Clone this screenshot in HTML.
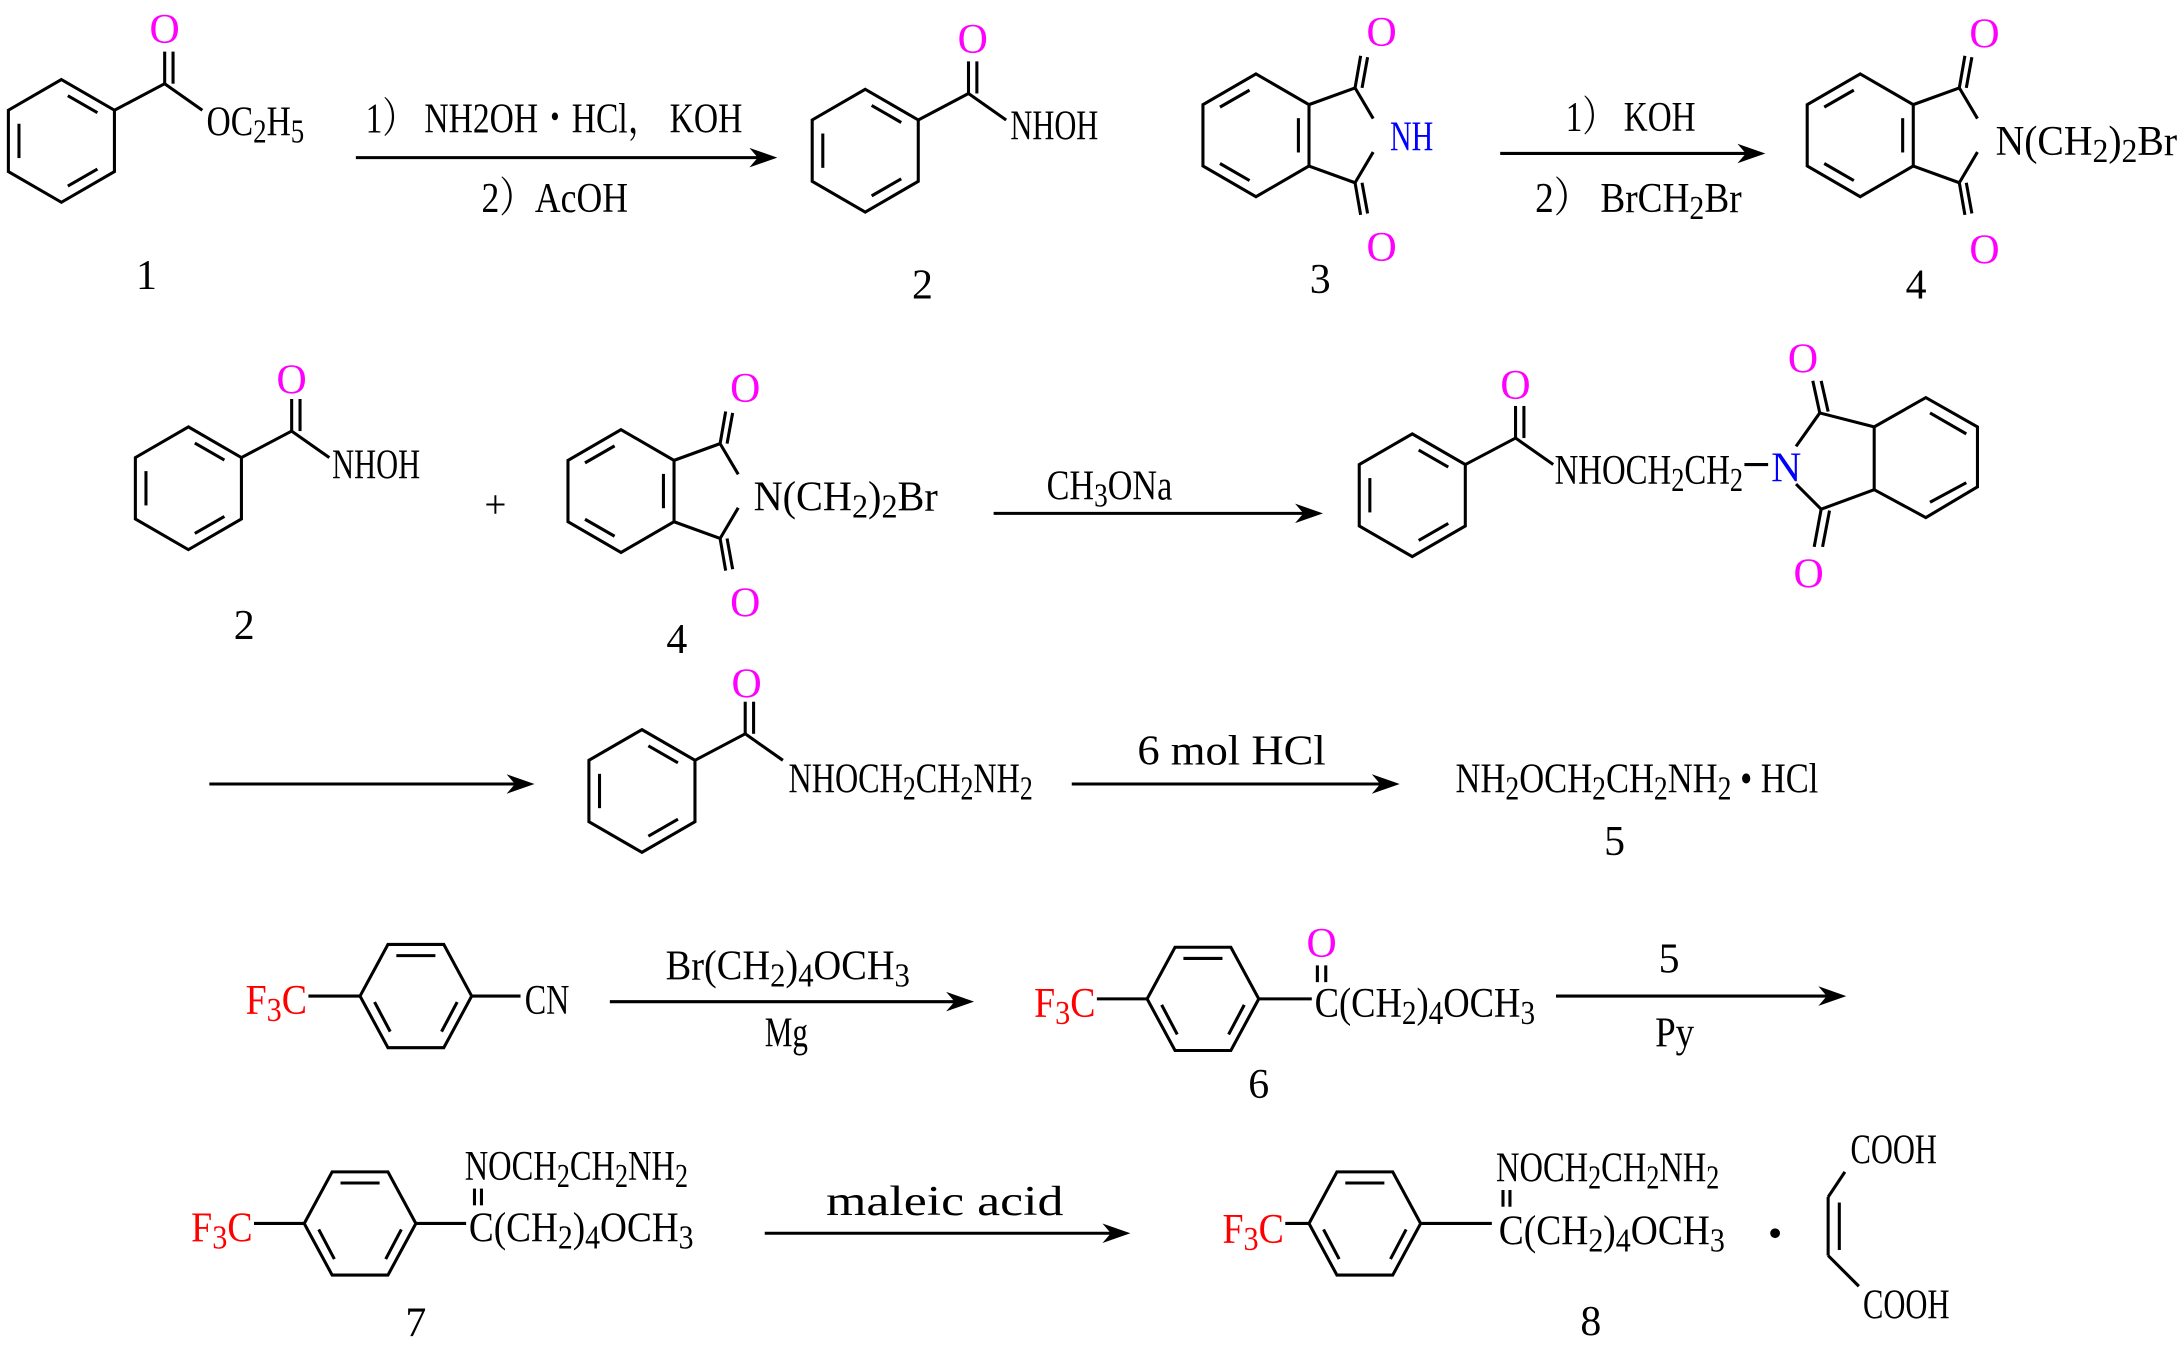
<!DOCTYPE html>
<html><head><meta charset="utf-8"><style>
html,body{margin:0;padding:0;background:#fff;}
svg{display:block;}
text{font-family:"Liberation Serif","Noto Serif CJK SC",serif;font-size:30px;fill:#000;}
.s{font-size:24px;}
.m{fill:#ff00ff;}
.b{fill:#0000ff;}
.r{fill:#ff0000;}
line,polyline,polygon.k{stroke:#000;stroke-width:2.2;fill:none;}
.ah{fill:#000;stroke:none;}
</style></head><body>
<svg width="2184" height="1356" viewBox="0 0 1565 972" preserveAspectRatio="none" xmlns="http://www.w3.org/2000/svg">
<defs>
<g id="ringA">
<polygon class="k" points="0,-44 38,-22 38,22 0,44 -38,22 -38,-22"/>
<line x1="4.6" y1="-32.4" x2="25.8" y2="-20.2"/>
<line x1="-30.4" y1="-12.3" x2="-30.4" y2="12.3"/>
<line x1="4.6" y1="32.4" x2="25.8" y2="20.2"/>
</g>
<g id="ringB">
<polygon class="k" points="0,-44 38,-22 38,22 0,44 -38,22 -38,-22"/>
<line x1="-4.6" y1="-32.4" x2="-25.8" y2="-20.2"/>
<line x1="30.4" y1="-12.3" x2="30.4" y2="12.3"/>
<line x1="-4.6" y1="32.4" x2="-25.8" y2="20.2"/>
</g>
<g id="ringF">
<polygon class="k" points="40,0 20,37 -20,37 -40,0 -20,-37 20,-37"/>
<line x1="-14" y1="-29" x2="14" y2="-29"/>
<line x1="-29.6" y1="4.3" x2="-18.4" y2="25.5"/>
<line x1="29.6" y1="4.3" x2="18.4" y2="25.5"/>
</g>
<g id="benzoyl">
<use href="#ringA"/>
<line x1="38" y1="-22" x2="74" y2="-41"/>
<line x1="74" y1="-41" x2="74" y2="-64"/>
<line x1="80" y1="-41" x2="80" y2="-64"/>
<line x1="74" y1="-41" x2="101" y2="-22"/>
</g>
<g id="phth">
<use href="#ringB"/>
<line x1="38" y1="-22" x2="71" y2="-34"/>
<line x1="38" y1="22" x2="71" y2="34"/>
<line x1="71" y1="-34" x2="84" y2="-12"/>
<line x1="71" y1="34" x2="84" y2="12"/>
<line x1="71" y1="-34" x2="75" y2="-57"/>
<line x1="76" y1="-34" x2="80" y2="-56"/>
<line x1="71" y1="34" x2="75" y2="57"/>
<line x1="76" y1="34" x2="80" y2="56"/>
</g>
<polygon id="head" class="ah" points="0,0 -20,-7 -14,0 -20,7"/>
</defs>

<!-- Row 1 -->
<use href="#benzoyl" x="44" y="101"/>
<text class="m" x="118" y="31" text-anchor="middle">O</text>
<text x="148" y="97" textLength="70" lengthAdjust="spacingAndGlyphs">OC<tspan class="s" dy="5">2</tspan><tspan dy="-5">H</tspan><tspan class="s" dy="5">5</tspan></text>
<text x="105" y="207" text-anchor="middle">1</text>

<line x1="255" y1="113" x2="545" y2="113"/><use href="#head" x="557" y="113"/>
<text x="262" y="95" textLength="270" lengthAdjust="spacingAndGlyphs">1） NH2OH・HCl， KOH</text>
<text x="345" y="152" textLength="105" lengthAdjust="spacingAndGlyphs">2）AcOH</text>

<use href="#benzoyl" x="620" y="108"/>
<text class="m" x="697" y="38" text-anchor="middle">O</text>
<text x="724" y="100" textLength="63" lengthAdjust="spacingAndGlyphs">NHOH</text>
<text x="661" y="214" text-anchor="middle">2</text>

<use href="#phth" x="900" y="97"/>
<text class="m" x="990" y="33" text-anchor="middle">O</text>
<text class="m" x="990" y="187" text-anchor="middle">O</text>
<text class="b" x="996" y="108" textLength="31" lengthAdjust="spacingAndGlyphs">NH</text>
<text x="946" y="210" text-anchor="middle">3</text>

<line x1="1075" y1="110" x2="1253" y2="110"/><use href="#head" x="1265" y="110"/>
<text x="1122" y="94" textLength="93" lengthAdjust="spacingAndGlyphs">1） KOH</text>
<text x="1100" y="152" textLength="148" lengthAdjust="spacingAndGlyphs">2） BrCH<tspan class="s" dy="5">2</tspan><tspan dy="-5">Br</tspan></text>

<use href="#phth" x="1333" y="97"/>
<text class="m" x="1422" y="34" text-anchor="middle">O</text>
<text class="m" x="1422" y="189" text-anchor="middle">O</text>
<text x="1430" y="111" textLength="130" lengthAdjust="spacingAndGlyphs">N(CH<tspan class="s" dy="5">2</tspan><tspan dy="-5">)</tspan><tspan class="s" dy="5">2</tspan><tspan dy="-5">Br</tspan></text>
<text x="1373" y="214" text-anchor="middle">4</text>

<!-- Row 2 -->
<use href="#benzoyl" x="135" y="350"/>
<text class="m" x="209" y="282" text-anchor="middle">O</text>
<text x="238" y="343" textLength="63" lengthAdjust="spacingAndGlyphs">NHOH</text>
<text x="175" y="458" text-anchor="middle">2</text>
<text x="355" y="371" text-anchor="middle" style="font-size:28px">+</text>

<use href="#phth" x="445" y="352"/>
<text class="m" x="534" y="288" text-anchor="middle">O</text>
<text class="m" x="534" y="442" text-anchor="middle">O</text>
<text x="540" y="366" textLength="132" lengthAdjust="spacingAndGlyphs">N(CH<tspan class="s" dy="5">2</tspan><tspan dy="-5">)</tspan><tspan class="s" dy="5">2</tspan><tspan dy="-5">Br</tspan></text>
<text x="485" y="468" text-anchor="middle">4</text>

<line x1="712" y1="368" x2="936" y2="368"/><use href="#head" x="948" y="368"/>
<text x="750" y="358" textLength="90" lengthAdjust="spacingAndGlyphs">CH<tspan class="s" dy="5">3</tspan><tspan dy="-5">ONa</tspan></text>

<use href="#benzoyl" x="1012" y="355"/>
<text class="m" x="1086" y="286" text-anchor="middle">O</text>
<text x="1114" y="347" textLength="135" lengthAdjust="spacingAndGlyphs">NHOCH<tspan class="s" dy="5">2</tspan><tspan dy="-5">CH</tspan><tspan class="s" dy="5">2</tspan></text>
<line x1="1250" y1="333" x2="1267" y2="333"/>
<text class="b" x="1280" y="345" text-anchor="middle">N</text>
<line x1="1287" y1="320" x2="1304" y2="296"/>
<line x1="1287" y1="347" x2="1305" y2="365"/>
<line x1="1304" y1="296" x2="1343" y2="306"/>
<line x1="1305" y1="365" x2="1343" y2="351"/>
<line x1="1343" y1="306" x2="1343" y2="351"/>
<polyline points="1343,306 1380,285 1417,306 1417,349 1380,371 1343,351"/>
<line x1="1383" y1="296" x2="1409" y2="311"/>
<line x1="1383" y1="360" x2="1409" y2="346"/>
<line x1="1304" y1="296" x2="1299" y2="273"/>
<line x1="1310" y1="295" x2="1305" y2="273"/>
<line x1="1305" y1="365" x2="1300" y2="392"/>
<line x1="1311" y1="366" x2="1306" y2="392"/>
<text class="m" x="1292" y="267" text-anchor="middle">O</text>
<text class="m" x="1296" y="421" text-anchor="middle">O</text>

<!-- Row 3 -->
<line x1="150" y1="562" x2="371" y2="562"/><use href="#head" x="383" y="562"/>
<use href="#benzoyl" x="460" y="567"/>
<text class="m" x="535" y="500" text-anchor="middle">O</text>
<text x="565" y="568" textLength="175" lengthAdjust="spacingAndGlyphs">NHOCH<tspan class="s" dy="5">2</tspan><tspan dy="-5">CH</tspan><tspan class="s" dy="5">2</tspan><tspan dy="-5">NH</tspan><tspan class="s" dy="5">2</tspan></text>
<line x1="768" y1="562" x2="991" y2="562"/><use href="#head" x="1003" y="562"/>
<text x="815" y="548" textLength="135" lengthAdjust="spacingAndGlyphs">6 mol HCl</text>
<text x="1043" y="568" textLength="260" lengthAdjust="spacingAndGlyphs">NH<tspan class="s" dy="5">2</tspan><tspan dy="-5">OCH</tspan><tspan class="s" dy="5">2</tspan><tspan dy="-5">CH</tspan><tspan class="s" dy="5">2</tspan><tspan dy="-5">NH</tspan><tspan class="s" dy="5">2</tspan><tspan dy="-5"> • HCl</tspan></text>
<text x="1157" y="613" text-anchor="middle">5</text>

<!-- Row 4 -->
<text class="r" x="176" y="727" textLength="44" lengthAdjust="spacingAndGlyphs">F<tspan class="s r" dy="5">3</tspan><tspan class="r" dy="-5">C</tspan></text>
<line x1="221" y1="714" x2="258" y2="714"/>
<use href="#ringF" x="298" y="714"/>
<line x1="338" y1="714" x2="373" y2="714"/>
<text x="376" y="727" textLength="32" lengthAdjust="spacingAndGlyphs">CN</text>

<line x1="437" y1="718" x2="686" y2="718"/><use href="#head" x="698" y="718"/>
<text x="477" y="702" textLength="175" lengthAdjust="spacingAndGlyphs">Br(CH<tspan class="s" dy="5">2</tspan><tspan dy="-5">)</tspan><tspan class="s" dy="5">4</tspan><tspan dy="-5">OCH</tspan><tspan class="s" dy="5">3</tspan></text>
<text x="548" y="750" textLength="31" lengthAdjust="spacingAndGlyphs">Mg</text>

<text class="r" x="741" y="729" textLength="44" lengthAdjust="spacingAndGlyphs">F<tspan class="s r" dy="5">3</tspan><tspan class="r" dy="-5">C</tspan></text>
<line x1="786" y1="716" x2="822" y2="716"/>
<use href="#ringF" x="862" y="716"/>
<line x1="902" y1="716" x2="940" y2="716"/>
<text class="m" x="947" y="686" text-anchor="middle">O</text>
<line x1="944" y1="692" x2="944" y2="704"/>
<line x1="950" y1="692" x2="950" y2="704"/>
<text x="942" y="729" textLength="158" lengthAdjust="spacingAndGlyphs">C(CH<tspan class="s" dy="5">2</tspan><tspan dy="-5">)</tspan><tspan class="s" dy="5">4</tspan><tspan dy="-5">OCH</tspan><tspan class="s" dy="5">3</tspan></text>
<text x="902" y="787" text-anchor="middle">6</text>

<line x1="1115" y1="714" x2="1311" y2="714"/><use href="#head" x="1323" y="714"/>
<text x="1196" y="697" text-anchor="middle">5</text>
<text x="1186" y="750" textLength="28" lengthAdjust="spacingAndGlyphs">Py</text>

<!-- Row 5 -->
<text class="r" x="137" y="890" textLength="44" lengthAdjust="spacingAndGlyphs">F<tspan class="s r" dy="5">3</tspan><tspan class="r" dy="-5">C</tspan></text>
<line x1="182" y1="877" x2="218" y2="877"/>
<use href="#ringF" x="258" y="877"/>
<line x1="298" y1="877" x2="334" y2="877"/>
<text x="333" y="846" textLength="160" lengthAdjust="spacingAndGlyphs">NOCH<tspan class="s" dy="5">2</tspan><tspan dy="-5">CH</tspan><tspan class="s" dy="5">2</tspan><tspan dy="-5">NH</tspan><tspan class="s" dy="5">2</tspan></text>
<line x1="340" y1="852" x2="340" y2="864"/>
<line x1="345" y1="852" x2="345" y2="864"/>
<text x="336" y="890" textLength="161" lengthAdjust="spacingAndGlyphs">C(CH<tspan class="s" dy="5">2</tspan><tspan dy="-5">)</tspan><tspan class="s" dy="5">4</tspan><tspan dy="-5">OCH</tspan><tspan class="s" dy="5">3</tspan></text>
<text x="298" y="958" text-anchor="middle">7</text>

<line x1="548" y1="884" x2="798" y2="884"/><use href="#head" x="810" y="884"/>
<text x="592" y="871" textLength="170" lengthAdjust="spacingAndGlyphs">maleic acid</text>

<text class="r" x="876" y="891" textLength="44" lengthAdjust="spacingAndGlyphs">F<tspan class="s r" dy="5">3</tspan><tspan class="r" dy="-5">C</tspan></text>
<line x1="921" y1="877" x2="938" y2="877"/>
<use href="#ringF" x="978" y="877"/>
<line x1="1018" y1="877" x2="1069" y2="877"/>
<text x="1072" y="847" textLength="160" lengthAdjust="spacingAndGlyphs">NOCH<tspan class="s" dy="5">2</tspan><tspan dy="-5">CH</tspan><tspan class="s" dy="5">2</tspan><tspan dy="-5">NH</tspan><tspan class="s" dy="5">2</tspan></text>
<line x1="1077" y1="853" x2="1077" y2="865"/>
<line x1="1082" y1="853" x2="1082" y2="865"/>
<text x="1074" y="892" textLength="162" lengthAdjust="spacingAndGlyphs">C(CH<tspan class="s" dy="5">2</tspan><tspan dy="-5">)</tspan><tspan class="s" dy="5">4</tspan><tspan dy="-5">OCH</tspan><tspan class="s" dy="5">3</tspan></text>
<circle cx="1272" cy="884" r="3.5" fill="#000"/>
<text x="1140" y="957" text-anchor="middle">8</text>

<text x="1326" y="834" textLength="62" lengthAdjust="spacingAndGlyphs">COOH</text>
<line x1="1322" y1="840" x2="1310" y2="858"/>
<line x1="1310" y1="858" x2="1310" y2="900"/>
<line x1="1318" y1="862" x2="1318" y2="896"/>
<line x1="1310" y1="900" x2="1332" y2="922"/>
<text x="1335" y="945" textLength="62" lengthAdjust="spacingAndGlyphs">COOH</text>
</svg>
</body></html>
